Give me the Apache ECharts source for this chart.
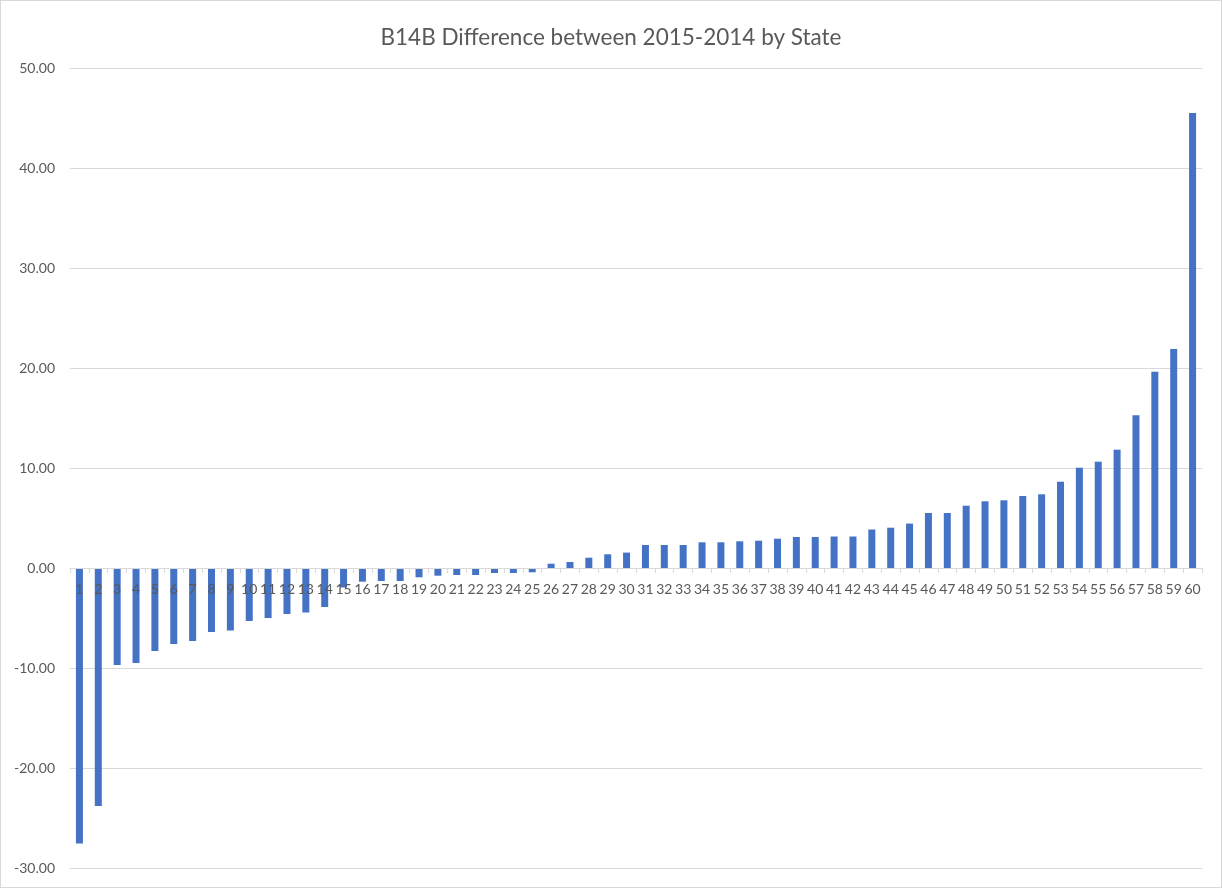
<!DOCTYPE html>
<html>
<head>
<meta charset="utf-8">
<script src="https://cdn.jsdelivr.net/npm/echarts@6/dist/echarts.min.js"></script>
<style>
html,body{margin:0;padding:0;background:#fff;}
#c{width:1222px;height:888px;box-sizing:border-box;border:1px solid #d9d9d9;}
</style>
</head>
<body>
<div id="c"></div>
<script>
const titleText = "B14B Difference between 2015-2014 by State";
const categories = [];
for (let i = 1; i <= 60; i++) categories.push(String(i));
const values = [
  -27.55, -23.8, -9.7, -9.5, -8.3, -7.6, -7.3, -6.4, -6.25, -5.3,
  -5.0, -4.6, -4.45, -3.9, -1.95, -1.37, -1.3, -1.3, -0.93, -0.77,
  -0.7, -0.7, -0.5, -0.5, -0.43, 0.43, 0.6, 1.03, 1.37, 1.54,
  2.3, 2.3, 2.3, 2.57, 2.57, 2.67, 2.73, 2.93, 3.1, 3.1,
  3.15, 3.15, 3.85, 4.03, 4.44, 5.5, 5.5, 6.23, 6.67, 6.77,
  7.2, 7.37, 8.63, 10.03, 10.63, 11.83, 15.27, 19.63, 21.9, 45.5
];
const yMin = -30, yMax = 50, yStep = 10;

const chart = echarts.init(document.getElementById('c'), null, {renderer: 'canvas'});
chart.setOption({
  animation: false,
  backgroundColor: '#ffffff',
  title: {
    text: titleText,
    left: 'center',
    top: 20,
    textStyle: {fontFamily: 'Lato', fontSize: 22.5, fontWeight: 'normal', color: '#595959'}
  },
  grid: {left: 69, right: 19, top: 67, bottom: 19, containLabel: false},
  xAxis: {
    type: 'category',
    data: categories,
    offset: -300,
    z: 10,
    axisLine: {onZero: false, lineStyle: {color: '#d9d9d9', width: 1}},
    axisTick: {show: true, length: 5, lineStyle: {color: '#d9d9d9'}},
    axisLabel: {interval: 0, color: '#595959', fontFamily: 'Lato', fontSize: 14, margin: 14}
  },
  yAxis: {
    type: 'value',
    min: yMin, max: yMax, interval: yStep,
    axisLine: {show: false},
    axisTick: {show: false},
    splitLine: {lineStyle: {color: '#d9d9d9', width: 1}},
    axisLabel: {
      color: '#595959', fontFamily: 'Lato', fontSize: 14, margin: 15,
      formatter: v => v.toFixed(2)
    }
  },
  series: [{
    type: 'bar',
    data: values,
    barWidth: 7,
    z: 2,
    itemStyle: {color: '#4472C4'}
  }]
});
</script>
</body>
</html>
